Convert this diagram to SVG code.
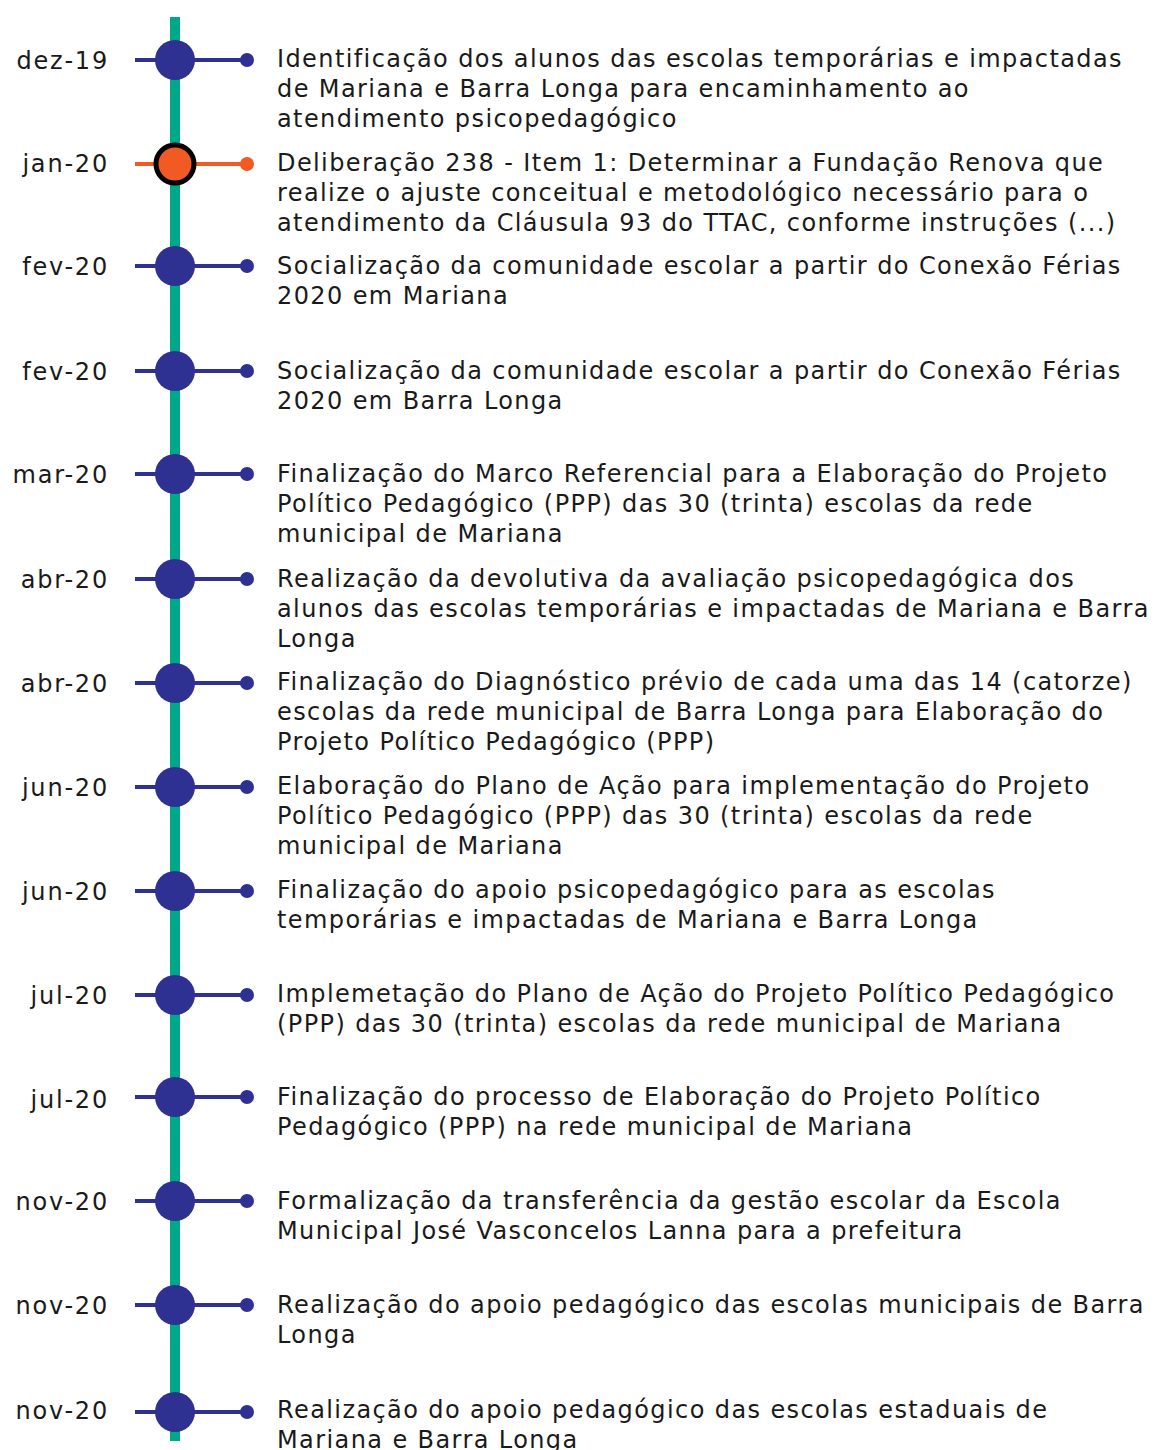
<svg xmlns="http://www.w3.org/2000/svg" width="1155" height="1450" viewBox="0 0 1155 1450">
<style>
text{font-family:"DejaVu Sans","Verdana",sans-serif;font-size:24px;fill:#1a1a1a;letter-spacing:1.4px}
.d{text-anchor:end;letter-spacing:1.8px}
.h{stroke:#2E3192;stroke-width:4}
.b{fill:#2E3192}
.ho{stroke:#F15A22;stroke-width:4}
.o{fill:#F15A22}
</style>
<rect width="1155" height="1450" fill="#fff"/>
<g id="connectors">
<line x1="175" y1="17" x2="175" y2="1441" stroke="#00A88A" stroke-width="10"/>
</g>
<g id="n1"><line class="h" x1="135" y1="60" x2="247" y2="60"/><circle class="b" cx="175" cy="60" r="20"/><circle class="b" cx="247" cy="60" r="7"/>
<text class="d" x="109" y="69">dez-19</text>
<text x="277" y="67">Identificação dos alunos das escolas temporárias e impactadas</text>
<text x="277" y="97">de Mariana e Barra Longa para encaminhamento ao</text>
<text x="277" y="127">atendimento psicopedagógico</text></g>
<g id="n2"><line class="ho" x1="135" y1="164" x2="247" y2="164"/><circle class="o" cx="175" cy="164" r="19" stroke="#000" stroke-width="5"/><circle class="o" cx="247" cy="164" r="7"/>
<text class="d" x="109" y="172">jan-20</text>
<text x="277" y="171">Deliberação 238 - Item 1: Determinar a Fundação Renova que</text>
<text x="277" y="201">realize o ajuste conceitual e metodológico necessário para o</text>
<text x="277" y="231">atendimento da Cláusula 93 do TTAC, conforme instruções (...)</text></g>
<g id="n3"><line class="h" x1="135" y1="266" x2="247" y2="266"/><circle class="b" cx="175" cy="266" r="20"/><circle class="b" cx="247" cy="266" r="7"/>
<text class="d" x="109" y="275">fev-20</text>
<text x="277" y="274">Socialização da comunidade escolar a partir do Conexão Férias</text>
<text x="277" y="304">2020 em Mariana</text></g>
<g id="n4"><line class="h" x1="135" y1="371" x2="247" y2="371"/><circle class="b" cx="175" cy="371" r="20"/><circle class="b" cx="247" cy="371" r="7"/>
<text class="d" x="109" y="380">fev-20</text>
<text x="277" y="379">Socialização da comunidade escolar a partir do Conexão Férias</text>
<text x="277" y="409">2020 em Barra Longa</text></g>
<g id="n5"><line class="h" x1="135" y1="474" x2="247" y2="474"/><circle class="b" cx="175" cy="474" r="20"/><circle class="b" cx="247" cy="474" r="7"/>
<text class="d" x="109" y="483">mar-20</text>
<text x="277" y="482">Finalização do Marco Referencial para a Elaboração do Projeto</text>
<text x="277" y="512">Político Pedagógico (PPP) das 30 (trinta) escolas da rede</text>
<text x="277" y="542">municipal de Mariana</text></g>
<g id="n6"><line class="h" x1="135" y1="579" x2="247" y2="579"/><circle class="b" cx="175" cy="579" r="20"/><circle class="b" cx="247" cy="579" r="7"/>
<text class="d" x="109" y="588">abr-20</text>
<text x="277" y="587">Realização da devolutiva da avaliação psicopedagógica dos</text>
<text x="277" y="617">alunos das escolas temporárias e impactadas de Mariana e Barra</text>
<text x="277" y="647">Longa</text></g>
<g id="n7"><line class="h" x1="135" y1="683" x2="247" y2="683"/><circle class="b" cx="175" cy="683" r="20"/><circle class="b" cx="247" cy="683" r="7"/>
<text class="d" x="109" y="692">abr-20</text>
<text x="277" y="690">Finalização do Diagnóstico prévio de cada uma das 14 (catorze)</text>
<text x="277" y="720">escolas da rede municipal de Barra Longa para Elaboração do</text>
<text x="277" y="750">Projeto Político Pedagógico (PPP)</text></g>
<g id="n8"><line class="h" x1="135" y1="787" x2="247" y2="787"/><circle class="b" cx="175" cy="787" r="20"/><circle class="b" cx="247" cy="787" r="7"/>
<text class="d" x="109" y="796">jun-20</text>
<text x="277" y="794">Elaboração do Plano de Ação para implementação do Projeto</text>
<text x="277" y="824">Político Pedagógico (PPP) das 30 (trinta) escolas da rede</text>
<text x="277" y="854">municipal de Mariana</text></g>
<g id="n9"><line class="h" x1="135" y1="891" x2="247" y2="891"/><circle class="b" cx="175" cy="891" r="20"/><circle class="b" cx="247" cy="891" r="7"/>
<text class="d" x="109" y="900">jun-20</text>
<text x="277" y="898">Finalização do apoio psicopedagógico para as escolas</text>
<text x="277" y="928">temporárias e impactadas de Mariana e Barra Longa</text></g>
<g id="n10"><line class="h" x1="135" y1="995" x2="247" y2="995"/><circle class="b" cx="175" cy="995" r="20"/><circle class="b" cx="247" cy="995" r="7"/>
<text class="d" x="109" y="1004">jul-20</text>
<text x="277" y="1002">Implemetação do Plano de Ação do Projeto Político Pedagógico</text>
<text x="277" y="1032">(PPP) das 30 (trinta) escolas da rede municipal de Mariana</text></g>
<g id="n11"><line class="h" x1="135" y1="1097" x2="247" y2="1097"/><circle class="b" cx="175" cy="1097" r="20"/><circle class="b" cx="247" cy="1097" r="7"/>
<text class="d" x="109" y="1108">jul-20</text>
<text x="277" y="1105">Finalização do processo de Elaboração do Projeto Político</text>
<text x="277" y="1135">Pedagógico (PPP) na rede municipal de Mariana</text></g>
<g id="n12"><line class="h" x1="135" y1="1201" x2="247" y2="1201"/><circle class="b" cx="175" cy="1201" r="20"/><circle class="b" cx="247" cy="1201" r="7"/>
<text class="d" x="109" y="1210">nov-20</text>
<text x="277" y="1209">Formalização da transferência da gestão escolar da Escola</text>
<text x="277" y="1239">Municipal José Vasconcelos Lanna para a prefeitura</text></g>
<g id="n13"><line class="h" x1="135" y1="1305" x2="247" y2="1305"/><circle class="b" cx="175" cy="1305" r="20"/><circle class="b" cx="247" cy="1305" r="7"/>
<text class="d" x="109" y="1314">nov-20</text>
<text x="277" y="1313">Realização do apoio pedagógico das escolas municipais de Barra</text>
<text x="277" y="1343">Longa</text></g>
<g id="n14"><line class="h" x1="135" y1="1412" x2="247" y2="1412"/><circle class="b" cx="175" cy="1412" r="20"/><circle class="b" cx="247" cy="1412" r="7"/>
<text class="d" x="109" y="1419">nov-20</text>
<text x="277" y="1418">Realização do apoio pedagógico das escolas estaduais de</text>
<text x="277" y="1448">Mariana e Barra Longa</text></g>
</svg>
